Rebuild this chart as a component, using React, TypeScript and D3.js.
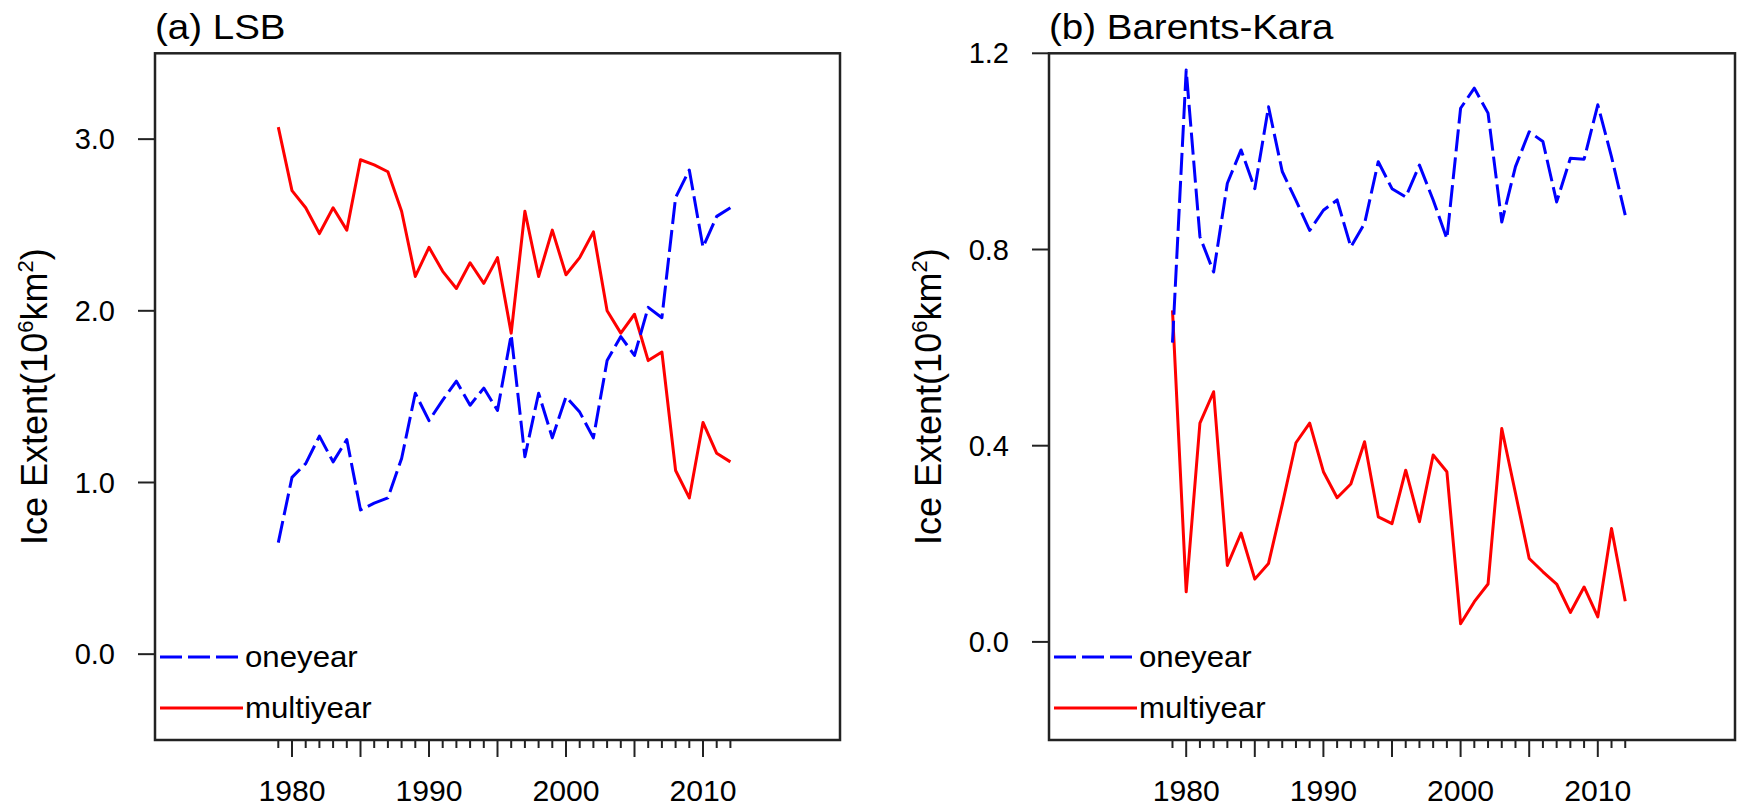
import React from "react";
import * as d3 from "d3";

const years = [1979,1980,1981,1982,1983,1984,1985,1986,1987,1988,1989,1990,1991,1992,1993,1994,1995,1996,1997,1998,1999,2000,2001,2002,2003,2004,2005,2006,2007,2008,2009,2010,2011,2012];

const lsbOneyear = [0.65,1.03,1.11,1.27,1.12,1.25,0.84,0.88,0.91,1.14,1.52,1.36,1.48,1.59,1.45,1.55,1.42,1.86,1.15,1.52,1.26,1.50,1.41,1.26,1.71,1.85,1.74,2.02,1.96,2.66,2.82,2.37,2.55,2.60];
const lsbMultiyear = [3.07,2.70,2.60,2.45,2.60,2.47,2.88,2.85,2.81,2.58,2.20,2.37,2.23,2.13,2.28,2.16,2.31,1.87,2.58,2.20,2.47,2.21,2.31,2.46,2.00,1.87,1.98,1.71,1.76,1.07,0.91,1.35,1.17,1.12];

const bkOneyear = [0.61,1.166,0.826,0.754,0.935,1.003,0.924,1.091,0.959,0.90,0.839,0.880,0.901,0.805,0.853,0.979,0.924,0.907,0.972,0.901,0.822,1.088,1.129,1.078,0.856,0.969,1.040,1.020,0.897,0.986,0.984,1.095,0.989,0.870];
const bkMultiyear = [0.676,0.102,0.446,0.51,0.156,0.222,0.128,0.160,0.28,0.406,0.446,0.347,0.294,0.322,0.408,0.255,0.241,0.350,0.245,0.381,0.347,0.037,0.082,0.118,0.435,0.303,0.170,0.143,0.118,0.060,0.112,0.051,0.231,0.083];

const xLabelTicks = [1980, 1990, 2000, 2010];
const xMajorTicks = [1980, 1985, 1990, 1995, 2000, 2005, 2010];
const lsbYTicks = [0.0, 1.0, 2.0, 3.0];
const bkYTicks = [0.0, 0.4, 0.8, 1.2];
const legendLabels = ["oneyear", "multiyear"];

const FONT = "'Liberation Sans', Arial, Helvetica, sans-serif";
const BLUE = "#0000ff";
const RED = "#ff0000";
const AXIS = "#222";

type PanelProps = {
  title: string;
  oneyear: number[];
  multiyear: number[];
  yDomain: [number, number];
  yTicks: number[];
  left: number;
  right: number;
};

function Panel({ title, oneyear, multiyear, yDomain, yTicks, left, right }: PanelProps) {
  const top = 53.3;
  const bottom = 740;
  const x = d3.scaleLinear().domain([1970, 2020]).range([left, right]);
  const y = d3.scaleLinear().domain(yDomain).range([bottom, top]);
  const line = d3
    .line<number>()
    .x((_, i) => x(years[i]))
    .y((d) => y(d));
  const fmt = d3.format(".1f");
  const cy = (top + bottom) / 2;
  return (
    <g>
      <text
        transform={`translate(${left},39) scale(1.1,1)`}
        fontFamily={FONT}
        fontSize={35}
        fill="#000"
      >
        {title}
      </text>
      {/* y axis label */}
      <text
        transform={`translate(${left - 108},${cy}) rotate(-90)`}
        textAnchor="middle"
        fontFamily={FONT}
        fontSize={36}
        fill="#000"
      >
        Ice Extent(10<tspan dy={-14} fontSize={22}>6</tspan>
        <tspan dy={14}>km</tspan>
        <tspan dy={-14} fontSize={22}>2</tspan>
        <tspan dy={14}>)</tspan>
      </text>
      {/* y ticks */}
      {yTicks.map((t) => (
        <g key={"y" + t}>
          <line x1={left - 17} x2={left} y1={y(t)} y2={y(t)} stroke={AXIS} strokeWidth={2} />
          <text
            x={left - 40}
            y={y(t)}
            dy="0.35em"
            textAnchor="end"
            fontFamily={FONT}
            fontSize={29}
            fill="#000"
          >
            {fmt(t)}
          </text>
        </g>
      ))}
      {/* x ticks */}
      {years.map((yr) => (
        <line
          key={"xt" + yr}
          x1={x(yr)}
          x2={x(yr)}
          y1={bottom}
          y2={bottom + (xMajorTicks.includes(yr) ? 17 : 8)}
          stroke={AXIS}
          strokeWidth={2}
        />
      ))}
      {xLabelTicks.map((yr) => (
        <text
          key={"xl" + yr}
          transform={`translate(${x(yr)},801) scale(1.04,1)`}
          textAnchor="middle"
          fontFamily={FONT}
          fontSize={29}
          fill="#000"
        >
          {yr}
        </text>
      ))}
      {/* data */}
      <path d={line(multiyear) || ""} fill="none" stroke={RED} strokeWidth={3} strokeLinejoin="round" />
      <path
        d={line(oneyear) || ""}
        fill="none"
        stroke={BLUE}
        strokeWidth={3}
        strokeDasharray="22 6"
        strokeLinejoin="round"
      />
      {/* legend */}
      <line x1={left + 5} x2={left + 88} y1={657} y2={657} stroke={BLUE} strokeWidth={3} strokeDasharray="22 6" />
      <text
        transform={`translate(${left + 90},667) scale(1.04,1)`}
        fontFamily={FONT}
        fontSize={30}
        fill="#000"
      >
        {legendLabels[0]}
      </text>
      <line x1={left + 5} x2={left + 88} y1={708} y2={708} stroke={RED} strokeWidth={3} />
      <text
        transform={`translate(${left + 90},718) scale(1.04,1)`}
        fontFamily={FONT}
        fontSize={30}
        fill="#000"
      >
        {legendLabels[1]}
      </text>
      {/* frame */}
      <rect x={left} y={top} width={right - left} height={bottom - top} fill="none" stroke={AXIS} strokeWidth={2.5} />
    </g>
  );
}

export default function App() {
  return (
    <svg
      width={1737}
      height={808}
      style={{ position: "absolute", left: 0, top: 0, background: "#fff" }}
    >
      <rect x={0} y={0} width={1737} height={808} fill="#fff" />
      <Panel
        title="(a) LSB"
        oneyear={lsbOneyear}
        multiyear={lsbMultiyear}
        yDomain={[-0.5, 3.5]}
        yTicks={lsbYTicks}
        left={155}
        right={840}
      />
      <Panel
        title="(b) Barents-Kara"
        oneyear={bkOneyear}
        multiyear={bkMultiyear}
        yDomain={[-0.2, 1.2]}
        yTicks={bkYTicks}
        left={1049}
        right={1735}
      />
    </svg>
  );
}
